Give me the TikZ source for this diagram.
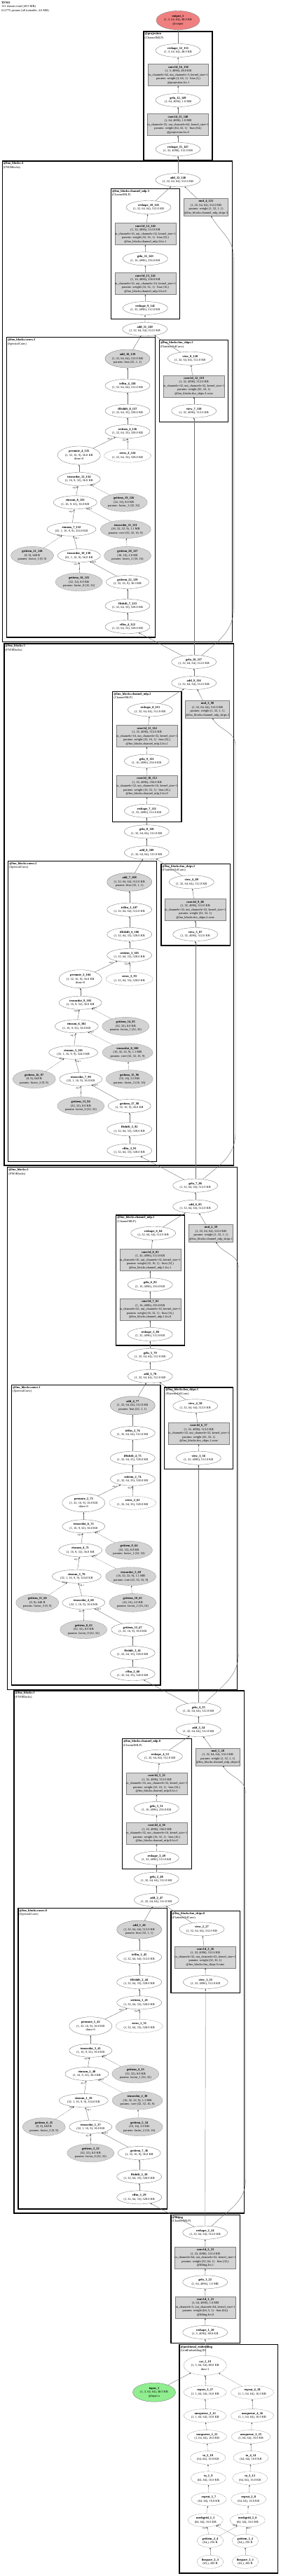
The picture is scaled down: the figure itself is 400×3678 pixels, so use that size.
\documentclass[tikz,border=0pt]{standalone}
\usepackage{fontspec}
\setmainfont{Liberation Serif}
\usetikzlibrary{shapes.geometric,arrows.meta}

\definecolor{parfill}{HTML}{D3D3D3}
\definecolor{outfill}{HTML}{F08080}
\definecolor{infill}{HTML}{90EE90}
\definecolor{nodeline}{HTML}{808080}
\definecolor{edgeline}{HTML}{707070}

\newcommand\nodefont{\fontsize{4.4}{5.5}\selectfont}
\newcommand\labfont{\fontsize{3.1}{3.5}\selectfont}
\newcommand\nm[1]{\textbf{\detokenize{#1}}}
\newcommand\kparams[2]{in\_channels=#1, out\_channels=#2, kernel\_size=1}
\newcommand\szfull{(1, 32, 64, 64), 512.0 KB}
\newcommand\szflat{(1, 32, 4096), 512.0 KB}
\newcommand\szhalf{(1, 16, 4096), 256.0 KB}
\newcommand\szspec{(1, 32, 64, 33), 528.0 KB}
\newcommand\szmodes{(1, 32, 16, 9), 36.0 KB}
\newcommand\szmix{(1, 16, 9, 32), 36.0 KB}
\newcommand\szgrid{(64, 64), 16.0 KB}

\tikzset{
  op/.style={ellipse, draw=nodeline, line width=0.4pt, minimum width=64pt, minimum height=19pt,
    inner sep=0pt, align=center, font=\nodefont},
  op3/.style={op, minimum height=26pt},
  pop/.style={op3, fill=parfill},
  ng/.style={dash pattern=on 1.2pt off 0.9pt},
  layer/.style={rectangle, draw=nodeline, line width=0.4pt, fill=parfill, minimum width=86pt,
    minimum height=31pt, inner sep=0pt, align=center, font=\nodefont},
  gate/.style={layer, minimum width=63pt, minimum height=25pt},
  grp/.style={draw=black, line width=1.3pt},
  grplab/.style={anchor=north west, align=left, inner sep=0pt, font=\nodefont},
  e/.style={draw=edgeline, line width=0.4pt, -{Stealth[length=2.4pt,width=1.8pt,color=black!80]}},
  ed/.style={e, ng},
  el/.style={font=\labfont, inner sep=0.6pt},
}

\begin{document}
\begin{tikzpicture}[x=1pt, y=-1pt]
  \useasboundingbox[fill=white] (0,0) rectangle (400,3678);
  \node[anchor=north west, align=left, inner sep=0pt, font=\nodefont] (title) at (2,2)
    {\textbf{TFNO}\\151 tensors total (49.9 MB)\\612775 params (all trainable, 4.6 MB)};

  \node[op3, fill=outfill, minimum width=62pt, minimum height=27pt] (output_1) at (254,29)
    {\nm{output_1}\\(1, 3, 64, 64), 48.0 KB\\@output};

  % projection
  \draw[grp] (205,45) rectangle (303,229);
  \node[grplab] (projection) at (206.5,46.5) {\textbf{@projection}\\(ChannelMLP)};
  \node[op] (reshape_12_151) at (254,72) {\nm{reshape_12_151}\\(1, 3, 64, 64), 48.0 KB};
  \node[layer] (conv1d_16_150) at (254.5,107) {\nm{conv1d_16_150}\\(1, 3, 4096), 48.0 KB\\\kparams{64}{3}\\params: weight (3, 64, 1) · bias (3,)\\@projection.fcs.1};
  \node[op] (gelu_12_149) at (254,143) {\nm{gelu_12_149}\\(1, 64, 4096), 1.0 MB};
  \node[layer] (conv1d_15_148) at (254,178) {\nm{conv1d_15_148}\\(1, 64, 4096), 1.0 MB\\\kparams{32}{64}\\params: weight (64, 32, 1) · bias (64,)\\@projection.fcs.0};
  \node[op] (reshape_11_147) at (254,213) {\nm{reshape_11_147}\\\szflat};
  \draw[e] (reshape_12_151) -- (output_1);
  \draw[e] (conv1d_16_150) -- (reshape_12_151);
  \draw[e] (gelu_12_149) -- (conv1d_16_150);
  \draw[e] (conv1d_15_148) -- (gelu_12_149);
  \draw[e] (reshape_11_147) -- (conv1d_15_148);

  % fno block 4
  \draw[grp] (3.3,230) rectangle (331.7,916.7);
  \node[grplab] (fno_blocks_4) at (4.8,231.5) {\textbf{@fno\_blocks:4}\\(FNOBlocks)};
  \draw[grp] (158.3,269.3) rectangle (256.7,455.3);
  \node[grplab] (channel_mlp_3) at (159.8,270.8) {\textbf{@fno\_blocks.channel\_mlp.3}\\(ChannelMLP)};
  \draw[grp] (9.3,481.7) rectangle (221.7,910);
  \node[grplab] (convs_3) at (10.8,483.2) {\textbf{@fno\_blocks.convs.3}\\(SpectralConv)};
  \draw[grp] (227.3,485.7) rectangle (325.7,602.7);
  \node[grplab] (fno_skips_3) at (228.8,487.2) {\textbf{@fno\_blocks.fno\_skips.3}\\(Flattened1dConv)};

  \node[op] (add_12_146) at (254,257) {\nm{add_12_146}\\\szfull};
  \node[op] (reshape_10_145) at (212,296) {\nm{reshape_10_145}\\\szfull};
  \node[gate] (mul_4_121) at (294,296) {\nm{mul_4_121}\\\szfull\\params: weight (1, 32, 1, 1)\\@fno\_blocks.channel\_mlp\_skips.3};
  \node[layer] (conv1d_14_144) at (207.5,334) {\nm{conv1d_14_144}\\\szflat\\\kparams{16}{32}\\params: weight (32, 16, 1) · bias (32,)\\@fno\_blocks.channel\_mlp.3.fcs.1};
  \node[op] (gelu_11_143) at (207.3,369.3) {\nm{gelu_11_143}\\\szhalf};
  \node[layer] (conv1d_13_142) at (207.5,405) {\nm{conv1d_13_142}\\\szhalf\\\kparams{32}{16}\\params: weight (16, 32, 1) · bias (16,)\\@fno\_blocks.channel\_mlp.3.fcs.0};
  \node[op] (reshape_9_141) at (207.3,440) {\nm{reshape_9_141}\\\szflat};
  \node[op] (add_11_140) at (206.7,470) {\nm{add_11_140}\\\szfull};
  \node[pop] (add_10_139) at (182,512) {\nm{add_10_139}\\\szfull\\params: bias (32, 1, 1)};
  \node[op] (view_8_120) at (271.3,511.7) {\nm{view_8_120}\\\szfull};
  \node[op] (irfftn_4_138) at (182,550.7) {\nm{irfftn_4_138}\\\szfull};
  \node[layer] (conv1d_12_119) at (276.7,551.3) {\nm{conv1d_12_119}\\\szflat\\\kparams{32}{32}\\params: weight (32, 32, 1)\\@fno\_blocks.fno\_skips.3.conv};
  \node[op] (ifftshift_8_137) at (182,586.7) {\nm{ifftshift_8_137}\\\szspec};
  \node[op] (view_7_118) at (276.7,586.7) {\nm{view_7_118}\\\szflat};
  \node[op] (setitem_4_136) at (182,616) {\nm{setitem_4_136}\\\szspec};
  \node[op3, minimum width=61pt] (permute_4_135) at (112.7,650) {\nm{permute_4_135}\\\szmodes\\dims=0};
  \node[op, ng, minimum width=67pt] (zeros_4_124) at (182,650.7) {\nm{zeros_4_124}\\\szspec};
  \node[op, minimum width=61pt] (tensordot_12_134) at (112.7,684) {\nm{tensordot_12_134}\\\szmix};
  \node[op, minimum width=62pt] (einsum_8_133) at (107.3,717.3) {\nm{einsum_8_133}\\\szmix};
  \node[pop, ng, minimum width=67pt] (getitem_19_126) at (176.7,717.3) {\nm{getitem_19_126}\\(32, 32), 8.0 KB\\params: factor\_1 (32, 32)};
  \node[op, minimum width=70pt] (einsum_7_132) at (102,755.7) {\nm{einsum_7_132}\\(32, 1, 16, 9, 9), 324.0 KB};
  \node[pop, ng, minimum width=72pt] (tensordot_11_131) at (179.3,755.7) {\nm{tensordot_11_131}\\(16, 32, 32, 9), 1.1 MB\\params: core (32, 32, 16, 9)};
  \node[pop, ng, minimum width=61pt] (getitem_21_128) at (46,793.3) {\nm{getitem_21_128}\\(9, 9), 648 B\\params: factor\_3 (9, 9)};
  \node[op, minimum width=61pt] (tensordot_10_130) at (112.7,793.3) {\nm{tensordot_10_130}\\(32, 1, 16, 9), 36.0 KB};
  \node[pop, ng, minimum width=67pt] (getitem_20_127) at (182,793.3) {\nm{getitem_20_127}\\(16, 16), 2.0 KB\\params: factor\_2 (16, 16)};
  \node[pop, ng, minimum width=67pt] (getitem_18_125) at (112.7,831) {\nm{getitem_18_125}\\(32, 32), 8.0 KB\\params: factor\_0 (32, 32)};
  \node[op, minimum width=61pt] (getitem_22_129) at (182,831) {\nm{getitem_22_129}\\\szmodes};
  \node[op] (fftshift_7_123) at (182,865) {\nm{fftshift_7_123}\\\szspec};
  \node[op] (rfftn_4_122) at (182,895) {\nm{rfftn_4_122}\\\szspec};

  \draw[e] (add_12_146) -- (reshape_11_147);
  \draw[e] (reshape_10_145) -- (add_12_146);
  \draw[e] (mul_4_121) -- (add_12_146);
  \draw[e] (conv1d_14_144) -- (reshape_10_145);
  \draw[e] (gelu_11_143) -- (conv1d_14_144);
  \draw[e] (conv1d_13_142) -- (gelu_11_143);
  \draw[e] (reshape_9_141) -- (conv1d_13_142);
  \draw[e] (add_11_140) -- (reshape_9_141);
  \draw[e] (add_10_139) -- (add_11_140);
  \draw[e] (view_8_120) -- (add_11_140);
  \draw[e] (conv1d_12_119) -- (view_8_120);
  \draw[e] (view_7_118) -- (conv1d_12_119);
  \draw[e] (irfftn_4_138) -- (add_10_139);
  \draw[e] (ifftshift_8_137) -- (irfftn_4_138);
  \draw[e] (setitem_4_136) -- (ifftshift_8_137);
  \draw[e] (permute_4_135) -- node[el, pos=0.85, left] {arg 2} (setitem_4_136);
  \draw[ed] (zeros_4_124) -- node[el, pos=0.8, left] {arg 0} (setitem_4_136);
  \draw[e] (tensordot_12_134) -- (permute_4_135);
  \draw[e] (einsum_8_133) -- node[el, pos=0.8, left] {arg 0} (tensordot_12_134);
  \draw[ed] (getitem_19_126) -- node[el, pos=0.85, above] {arg 1} (tensordot_12_134);
  \draw[e] (einsum_7_132) -- node[el, pos=0.8, left] {arg 1} (einsum_8_133);
  \draw[ed] (tensordot_11_131) -- node[el, pos=0.85, above] {arg 2} (einsum_8_133);
  \draw[e] (tensordot_10_130) -- node[el, pos=0.8, right] {arg 1} (einsum_7_132);
  \draw[ed] (getitem_21_128) -- node[el, pos=0.85, above] {arg 2} (einsum_7_132);
  \draw[ed] (getitem_20_127) -- (tensordot_11_131);
  \draw[ed] (getitem_18_125) -- node[el, pos=0.8, left] {arg 1} (tensordot_10_130);
  \draw[e] (getitem_22_129) -- node[el, pos=0.85, above] {arg 0} (tensordot_10_130);
  \draw[e] (fftshift_7_123) -- (getitem_22_129);
  \draw[e] (rfftn_4_122) -- (fftshift_7_123);

  % fno block 3
  \draw[grp] (6,919) rectangle (333.3,1664);
  \node[grplab] (fno_blocks_3) at (7.5,920.5) {\textbf{@fno\_blocks:3}\\(FNOBlocks)};
  \draw[grp] (160.7,987.3) rectangle (259,1173.3);
  \node[grplab] (channel_mlp_2) at (162.2,988.8) {\textbf{@fno\_blocks.channel\_mlp.2}\\(ChannelMLP)};
  \draw[grp] (11.7,1229.3) rectangle (223.3,1658.3);
  \node[grplab] (convs_2) at (13.2,1230.8) {\textbf{@fno\_blocks.convs.2}\\(SpectralConv)};
  \draw[grp] (230,1233.3) rectangle (328.3,1350);
  \node[grplab] (fno_skips_2) at (231.5,1234.8) {\textbf{@fno\_blocks.fno\_skips.2}\\(Flattened1dConv)};

  \node[op] (gelu_10_117) at (276.7,945) {\nm{gelu_10_117}\\\szfull};
  \node[op] (add_9_116) at (276.7,975) {\nm{add_9_116}\\\szfull};
  \node[op] (reshape_8_115) at (214.3,1013.3) {\nm{reshape_8_115}\\\szfull};
  \node[gate] (mul_3_90) at (296,1013) {\nm{mul_3_90}\\\szfull\\params: weight (1, 32, 1, 1)\\@fno\_blocks.channel\_mlp\_skips.2};
  \node[layer] (conv1d_11_114) at (209.7,1051) {\nm{conv1d_11_114}\\\szflat\\\kparams{16}{32}\\params: weight (32, 16, 1) · bias (32,)\\@fno\_blocks.channel\_mlp.2.fcs.1};
  \node[op] (gelu_9_113) at (209.3,1086.7) {\nm{gelu_9_113}\\\szhalf};
  \node[layer] (conv1d_10_112) at (209.7,1122.5) {\nm{conv1d_10_112}\\\szhalf\\\kparams{32}{16}\\params: weight (16, 32, 1) · bias (16,)\\@fno\_blocks.channel\_mlp.2.fcs.0};
  \node[op] (reshape_7_111) at (209.3,1157.7) {\nm{reshape_7_111}\\\szflat};
  \node[op] (gelu_8_110) at (209.3,1187.3) {\nm{gelu_8_110}\\\szfull};
  \node[op] (add_8_109) at (209.3,1217.3) {\nm{add_8_109}\\\szfull};
  \node[pop] (add_7_108) at (184.7,1259.3) {\nm{add_7_108}\\\szfull\\params: bias (32, 1, 1)};
  \node[op] (view_6_89) at (273.3,1259.3) {\nm{view_6_89}\\\szfull};
  \node[op] (irfftn_3_107) at (184.7,1298.7) {\nm{irfftn_3_107}\\\szfull};
  \node[layer] (conv1d_9_88) at (278.7,1299) {\nm{conv1d_9_88}\\\szflat\\\kparams{32}{32}\\params: weight (32, 32, 1)\\@fno\_blocks.fno\_skips.2.conv};
  \node[op] (ifftshift_6_106) at (184.7,1334) {\nm{ifftshift_6_106}\\\szspec};
  \node[op] (view_5_87) at (278.7,1334) {\nm{view_5_87}\\\szflat};
  \node[op] (setitem_3_105) at (184.7,1364) {\nm{setitem_3_105}\\\szspec};
  \node[op3, minimum width=61pt] (permute_3_104) at (114.7,1397.7) {\nm{permute_3_104}\\\szmodes\\dims=0};
  \node[op, ng, minimum width=67pt] (zeros_3_93) at (184.7,1397.7) {\nm{zeros_3_93}\\\szspec};
  \node[op, minimum width=61pt] (tensordot_9_103) at (114.7,1431.7) {\nm{tensordot_9_103}\\\szmix};
  \node[op, minimum width=62pt] (einsum_6_102) at (109.3,1465.3) {\nm{einsum_6_102}\\\szmix};
  \node[pop, ng, minimum width=67pt] (getitem_14_95) at (179.3,1465.3) {\nm{getitem_14_95}\\(32, 32), 8.0 KB\\params: factor\_1 (32, 32)};
  \node[op, minimum width=70pt] (einsum_5_101) at (104.7,1502.7) {\nm{einsum_5_101}\\(32, 1, 16, 9, 9), 324.0 KB};
  \node[pop, ng, minimum width=72pt] (tensordot_8_100) at (182,1502.7) {\nm{tensordot_8_100}\\(16, 32, 32, 9), 1.1 MB\\params: core (32, 32, 16, 9)};
  \node[pop, ng, minimum width=61pt] (getitem_16_97) at (48.7,1540.7) {\nm{getitem_16_97}\\(9, 9), 648 B\\params: factor\_3 (9, 9)};
  \node[op, minimum width=61pt] (tensordot_7_99) at (115.3,1540.7) {\nm{tensordot_7_99}\\(32, 1, 16, 9), 36.0 KB};
  \node[pop, ng, minimum width=67pt] (getitem_15_96) at (184.7,1540.7) {\nm{getitem_15_96}\\(16, 16), 2.0 KB\\params: factor\_2 (16, 16)};
  \node[pop, ng, minimum width=67pt] (getitem_13_94) at (115.3,1579) {\nm{getitem_13_94}\\(32, 32), 8.0 KB\\params: factor\_0 (32, 32)};
  \node[op, minimum width=61pt] (getitem_17_98) at (184.7,1579) {\nm{getitem_17_98}\\\szmodes};
  \node[op] (fftshift_5_92) at (184.7,1612.3) {\nm{fftshift_5_92}\\\szspec};
  \node[op] (rfftn_3_91) at (184.7,1642.7) {\nm{rfftn_3_91}\\\szspec};

  \coordinate (g4lo) at (333.6,868);
  \coordinate (g4hi) at (333.6,368);
  \draw[e] (gelu_10_117) -- (rfftn_4_122);
  \draw[e] (gelu_10_117) -- (view_7_118);
  \draw[e] (gelu_10_117) to[out=40,in=-90] (g4lo) -- (g4hi) to[out=90,in=-60] (mul_4_121);
  \draw[e] (add_9_116) -- (gelu_10_117);
  \draw[e] (reshape_8_115) -- (add_9_116);
  \draw[e] (mul_3_90) -- (add_9_116);
  \draw[e] (conv1d_11_114) -- (reshape_8_115);
  \draw[e] (gelu_9_113) -- (conv1d_11_114);
  \draw[e] (conv1d_10_112) -- (gelu_9_113);
  \draw[e] (reshape_7_111) -- (conv1d_10_112);
  \draw[e] (gelu_8_110) -- (reshape_7_111);
  \draw[e] (add_8_109) -- (gelu_8_110);
  \draw[e] (add_7_108) -- (add_8_109);
  \draw[e] (view_6_89) -- (add_8_109);
  \draw[e] (conv1d_9_88) -- (view_6_89);
  \draw[e] (view_5_87) -- (conv1d_9_88);
  \draw[e] (irfftn_3_107) -- (add_7_108);
  \draw[e] (ifftshift_6_106) -- (irfftn_3_107);
  \draw[e] (setitem_3_105) -- (ifftshift_6_106);
  \draw[e] (permute_3_104) -- node[el, pos=0.85, left] {arg 2} (setitem_3_105);
  \draw[ed] (zeros_3_93) -- node[el, pos=0.8, left] {arg 0} (setitem_3_105);
  \draw[e] (tensordot_9_103) -- (permute_3_104);
  \draw[e] (einsum_6_102) -- node[el, pos=0.8, left] {arg 0} (tensordot_9_103);
  \draw[ed] (getitem_14_95) -- node[el, pos=0.85, above] {arg 1} (tensordot_9_103);
  \draw[e] (einsum_5_101) -- node[el, pos=0.8, left] {arg 1} (einsum_6_102);
  \draw[ed] (tensordot_8_100) -- node[el, pos=0.85, above] {arg 2} (einsum_6_102);
  \draw[e] (tensordot_7_99) -- node[el, pos=0.8, right] {arg 1} (einsum_5_101);
  \draw[ed] (getitem_16_97) -- node[el, pos=0.85, above] {arg 2} (einsum_5_101);
  \draw[ed] (getitem_15_96) -- (tensordot_8_100);
  \draw[ed] (getitem_13_94) -- node[el, pos=0.8, left] {arg 1} (tensordot_7_99);
  \draw[e] (getitem_17_98) -- node[el, pos=0.85, above] {arg 0} (tensordot_7_99);
  \draw[e] (fftshift_5_92) -- (getitem_17_98);
  \draw[e] (rfftn_3_91) -- (fftshift_5_92);

  % fno block 2
  \draw[grp] (10.7,1666.7) rectangle (338.3,2412.7);
  \node[grplab] (fno_blocks_2) at (12.2,1668.2) {\textbf{@fno\_blocks:2}\\(FNOBlocks)};
  \draw[grp] (165.7,1735) rectangle (263.3,1921);
  \node[grplab] (channel_mlp_1) at (167.2,1736.5) {\textbf{@fno\_blocks.channel\_mlp.1}\\(ChannelMLP)};
  \draw[grp] (16.7,1977.3) rectangle (229,2406);
  \node[grplab] (convs_1) at (18.2,1978.8) {\textbf{@fno\_blocks.convs.1}\\(SpectralConv)};
  \draw[grp] (234.7,1981) rectangle (332.7,2097.3);
  \node[grplab] (fno_skips_1) at (236.2,1982.5) {\textbf{@fno\_blocks.fno\_skips.1}\\(Flattened1dConv)};

  \node[op] (gelu_7_86) at (278.7,1692.7) {\nm{gelu_7_86}\\\szfull};
  \node[op] (add_6_85) at (278.7,1722.7) {\nm{add_6_85}\\\szfull};
  \node[op] (reshape_6_84) at (218.7,1760.7) {\nm{reshape_6_84}\\\szfull};
  \node[gate] (mul_2_59) at (301,1760.8) {\nm{mul_2_59}\\\szfull\\params: weight (1, 32, 1, 1)\\@fno\_blocks.channel\_mlp\_skips.1};
  \node[layer] (conv1d_8_83) at (214.3,1799) {\nm{conv1d_8_83}\\\szflat\\\kparams{16}{32}\\params: weight (32, 16, 1) · bias (32,)\\@fno\_blocks.channel\_mlp.1.fcs.1};
  \node[op] (gelu_6_82) at (214.3,1834.3) {\nm{gelu_6_82}\\\szhalf};
  \node[layer] (conv1d_7_81) at (214.3,1869.8) {\nm{conv1d_7_81}\\\szhalf\\\kparams{32}{16}\\params: weight (16, 32, 1) · bias (16,)\\@fno\_blocks.channel\_mlp.1.fcs.0};
  \node[op] (reshape_5_80) at (214.3,1905) {\nm{reshape_5_80}\\\szflat};
  \node[op] (gelu_5_79) at (214.3,1935) {\nm{gelu_5_79}\\\szfull};
  \node[op] (add_5_78) at (214.3,1965) {\nm{add_5_78}\\\szfull};
  \node[pop] (add_4_77) at (189.3,2006.7) {\nm{add_4_77}\\\szfull\\params: bias (32, 1, 1)};
  \node[op] (view_4_58) at (278.7,2007.3) {\nm{view_4_58}\\\szfull};
  \node[op] (irfftn_2_76) at (189.3,2046) {\nm{irfftn_2_76}\\\szfull};
  \node[layer] (conv1d_6_57) at (283.7,2046.7) {\nm{conv1d_6_57}\\\szflat\\\kparams{32}{32}\\params: weight (32, 32, 1)\\@fno\_blocks.fno\_skips.1.conv};
  \node[op] (ifftshift_4_75) at (189.3,2081.7) {\nm{ifftshift_4_75}\\\szspec};
  \node[op] (view_3_56) at (283.3,2081.7) {\nm{view_3_56}\\\szflat};
  \node[op] (setitem_2_74) at (189.3,2111.7) {\nm{setitem_2_74}\\\szspec};
  \node[op3, minimum width=61pt] (permute_2_73) at (119.3,2145.7) {\nm{permute_2_73}\\\szmodes\\dims=0};
  \node[op, ng, minimum width=67pt] (zeros_2_62) at (189.3,2145.7) {\nm{zeros_2_62}\\\szspec};
  \node[op, minimum width=61pt] (tensordot_6_72) at (119.3,2179.3) {\nm{tensordot_6_72}\\\szmix};
  \node[op, minimum width=62pt] (einsum_4_71) at (114.7,2213.3) {\nm{einsum_4_71}\\\szmix};
  \node[pop, ng, minimum width=67pt] (getitem_9_64) at (184,2213.3) {\nm{getitem_9_64}\\(32, 32), 8.0 KB\\params: factor\_1 (32, 32)};
  \node[op, minimum width=70pt] (einsum_3_70) at (109.3,2250.7) {\nm{einsum_3_70}\\(32, 1, 16, 9, 9), 324.0 KB};
  \node[pop, ng, minimum width=72pt] (tensordot_5_69) at (186.7,2250.7) {\nm{tensordot_5_69}\\(16, 32, 32, 9), 1.1 MB\\params: core (32, 32, 16, 9)};
  \node[pop, ng, minimum width=61pt] (getitem_11_66) at (53.3,2288.3) {\nm{getitem_11_66}\\(9, 9), 648 B\\params: factor\_3 (9, 9)};
  \node[op, minimum width=61pt] (tensordot_4_68) at (119.3,2288.3) {\nm{tensordot_4_68}\\(32, 1, 16, 9), 36.0 KB};
  \node[pop, ng, minimum width=67pt] (getitem_10_65) at (189.3,2288.3) {\nm{getitem_10_65}\\(16, 16), 2.0 KB\\params: factor\_2 (16, 16)};
  \node[pop, ng, minimum width=67pt] (getitem_8_63) at (119.3,2326.7) {\nm{getitem_8_63}\\(32, 32), 8.0 KB\\params: factor\_0 (32, 32)};
  \node[op, minimum width=61pt] (getitem_12_67) at (189.3,2326.7) {\nm{getitem_12_67}\\\szmodes};
  \node[op] (fftshift_3_61) at (189.3,2360) {\nm{fftshift_3_61}\\\szspec};
  \node[op] (rfftn_2_60) at (189.3,2390) {\nm{rfftn_2_60}\\\szspec};

  \coordinate (g3lo) at (336,1618);
  \coordinate (g3hi) at (336,1064);
  \draw[e] (gelu_7_86) -- (rfftn_3_91);
  \draw[e] (gelu_7_86) -- (view_5_87);
  \draw[e] (gelu_7_86) to[out=40,in=-90] (g3lo) -- (g3hi) to[out=90,in=-60] (mul_3_90);
  \draw[e] (add_6_85) -- (gelu_7_86);
  \draw[e] (reshape_6_84) -- (add_6_85);
  \draw[e] (mul_2_59) -- (add_6_85);
  \draw[e] (conv1d_8_83) -- (reshape_6_84);
  \draw[e] (gelu_6_82) -- (conv1d_8_83);
  \draw[e] (conv1d_7_81) -- (gelu_6_82);
  \draw[e] (reshape_5_80) -- (conv1d_7_81);
  \draw[e] (gelu_5_79) -- (reshape_5_80);
  \draw[e] (add_5_78) -- (gelu_5_79);
  \draw[e] (add_4_77) -- (add_5_78);
  \draw[e] (view_4_58) -- (add_5_78);
  \draw[e] (conv1d_6_57) -- (view_4_58);
  \draw[e] (view_3_56) -- (conv1d_6_57);
  \draw[e] (irfftn_2_76) -- (add_4_77);
  \draw[e] (ifftshift_4_75) -- (irfftn_2_76);
  \draw[e] (setitem_2_74) -- (ifftshift_4_75);
  \draw[e] (permute_2_73) -- node[el, pos=0.85, left] {arg 2} (setitem_2_74);
  \draw[ed] (zeros_2_62) -- node[el, pos=0.8, left] {arg 0} (setitem_2_74);
  \draw[e] (tensordot_6_72) -- (permute_2_73);
  \draw[e] (einsum_4_71) -- node[el, pos=0.8, left] {arg 0} (tensordot_6_72);
  \draw[ed] (getitem_9_64) -- node[el, pos=0.85, above] {arg 1} (tensordot_6_72);
  \draw[e] (einsum_3_70) -- node[el, pos=0.8, left] {arg 1} (einsum_4_71);
  \draw[ed] (tensordot_5_69) -- node[el, pos=0.85, above] {arg 2} (einsum_4_71);
  \draw[e] (tensordot_4_68) -- node[el, pos=0.8, right] {arg 1} (einsum_3_70);
  \draw[ed] (getitem_11_66) -- node[el, pos=0.85, above] {arg 2} (einsum_3_70);
  \draw[ed] (getitem_10_65) -- (tensordot_5_69);
  \draw[ed] (getitem_8_63) -- node[el, pos=0.8, left] {arg 1} (tensordot_4_68);
  \draw[e] (getitem_12_67) -- node[el, pos=0.85, above] {arg 0} (tensordot_4_68);
  \draw[e] (fftshift_3_61) -- (getitem_12_67);
  \draw[e] (rfftn_2_60) -- (fftshift_3_61);

  % fno block 1
  \draw[grp] (20,2414) rectangle (348.3,3160);
  \node[grplab] (fno_blocks_1) at (21.5,2415.5) {\textbf{@fno\_blocks:1}\\(FNOBlocks)};
  \draw[grp] (174.3,2482.7) rectangle (273.3,2668.3);
  \node[grplab] (channel_mlp_0) at (175.8,2484.2) {\textbf{@fno\_blocks.channel\_mlp.0}\\(ChannelMLP)};
  \draw[grp] (26,2724.3) rectangle (238.3,3154);
  \node[grplab] (convs_0) at (27.5,2725.8) {\textbf{@fno\_blocks.convs.0}\\(SpectralConv)};
  \draw[grp] (244,2728.7) rectangle (342.3,2845.7);
  \node[grplab] (fno_skips_0) at (245.5,2730.2) {\textbf{@fno\_blocks.fno\_skips.0}\\(Flattened1dConv)};

  \node[op] (gelu_4_55) at (283.3,2440.7) {\nm{gelu_4_55}\\\szfull};
  \node[op] (add_3_54) at (283.3,2470) {\nm{add_3_54}\\\szfull};
  \node[op] (reshape_4_53) at (228.3,2507.7) {\nm{reshape_4_53}\\\szfull};
  \node[gate] (mul_1_28) at (310.8,2508.3) {\nm{mul_1_28}\\\szfull\\params: weight (1, 32, 1, 1)\\@fno\_blocks.channel\_mlp\_skips.0};
  \node[layer] (conv1d_5_52) at (223.7,2546.7) {\nm{conv1d_5_52}\\\szflat\\\kparams{16}{32}\\params: weight (32, 16, 1) · bias (32,)\\@fno\_blocks.channel\_mlp.0.fcs.1};
  \node[op] (gelu_3_51) at (223.3,2582) {\nm{gelu_3_51}\\\szhalf};
  \node[layer] (conv1d_4_50) at (223.7,2617.7) {\nm{conv1d_4_50}\\\szhalf\\\kparams{32}{16}\\params: weight (16, 32, 1) · bias (16,)\\@fno\_blocks.channel\_mlp.0.fcs.0};
  \node[op] (reshape_3_49) at (223.3,2652.7) {\nm{reshape_3_49}\\\szflat};
  \node[op] (gelu_2_48) at (223.3,2682.7) {\nm{gelu_2_48}\\\szfull};
  \node[op] (add_2_47) at (223.3,2712.7) {\nm{add_2_47}\\\szfull};
  \node[pop] (add_1_46) at (198.7,2755) {\nm{add_1_46}\\\szfull\\params: bias (32, 1, 1)};
  \node[op] (view_2_27) at (288,2754.3) {\nm{view_2_27}\\\szfull};
  \node[op] (irfftn_1_45) at (198.7,2794.3) {\nm{irfftn_1_45}\\\szfull};
  \node[layer] (conv1d_3_26) at (293,2794.3) {\nm{conv1d_3_26}\\\szflat\\\kparams{32}{32}\\params: weight (32, 32, 1)\\@fno\_blocks.fno\_skips.0.conv};
  \node[op] (ifftshift_2_44) at (198.7,2830) {\nm{ifftshift_2_44}\\\szspec};
  \node[op] (view_1_25) at (293.3,2830) {\nm{view_1_25}\\\szflat};
  \node[op] (setitem_1_43) at (198.7,2859.3) {\nm{setitem_1_43}\\\szspec};
  \node[op3, minimum width=61pt] (permute_1_42) at (129.3,2892.7) {\nm{permute_1_42}\\\szmodes\\dims=0};
  \node[op, ng, minimum width=67pt] (zeros_1_31) at (198.7,2892.7) {\nm{zeros_1_31}\\\szspec};
  \node[op, minimum width=61pt] (tensordot_3_41) at (129.3,2927.7) {\nm{tensordot_3_41}\\\szmix};
  \node[op, minimum width=62pt] (einsum_2_40) at (124,2961) {\nm{einsum_2_40}\\\szmix};
  \node[pop, ng, minimum width=67pt] (getitem_4_33) at (193.3,2961) {\nm{getitem_4_33}\\(32, 32), 8.0 KB\\params: factor\_1 (32, 32)};
  \node[op, minimum width=70pt] (einsum_1_39) at (119.3,2999) {\nm{einsum_1_39}\\(32, 1, 16, 9, 9), 324.0 KB};
  \node[pop, ng, minimum width=72pt] (tensordot_2_38) at (196,2999) {\nm{tensordot_2_38}\\(16, 32, 32, 9), 1.1 MB\\params: core (32, 32, 16, 9)};
  \node[pop, ng, minimum width=61pt] (getitem_6_35) at (62.7,3036.7) {\nm{getitem_6_35}\\(9, 9), 648 B\\params: factor\_3 (9, 9)};
  \node[op, minimum width=61pt] (tensordot_1_37) at (129.3,3036.7) {\nm{tensordot_1_37}\\(32, 1, 16, 9), 36.0 KB};
  \node[pop, ng, minimum width=67pt] (getitem_5_34) at (198.7,3036.7) {\nm{getitem_5_34}\\(16, 16), 2.0 KB\\params: factor\_2 (16, 16)};
  \node[pop, ng, minimum width=67pt] (getitem_3_32) at (129.3,3074) {\nm{getitem_3_32}\\(32, 32), 8.0 KB\\params: factor\_0 (32, 32)};
  \node[op, minimum width=61pt] (getitem_7_36) at (198.7,3074) {\nm{getitem_7_36}\\\szmodes};
  \node[op] (fftshift_1_30) at (198.7,3107.7) {\nm{fftshift_1_30}\\\szspec};
  \node[op] (rfftn_1_29) at (198.7,3137.3) {\nm{rfftn_1_29}\\\szspec};

  \coordinate (g2lo) at (340.5,2360);
  \coordinate (g2hi) at (340.5,1810);
  \draw[e] (gelu_4_55) -- (rfftn_2_60);
  \draw[e] (gelu_4_55) -- (view_3_56);
  \draw[e] (gelu_4_55) to[out=45,in=-90] (g2lo) -- (g2hi) to[out=90,in=-60] (mul_2_59);
  \draw[e] (add_3_54) -- (gelu_4_55);
  \draw[e] (reshape_4_53) -- (add_3_54);
  \draw[e] (mul_1_28) -- (add_3_54);
  \draw[e] (conv1d_5_52) -- (reshape_4_53);
  \draw[e] (gelu_3_51) -- (conv1d_5_52);
  \draw[e] (conv1d_4_50) -- (gelu_3_51);
  \draw[e] (reshape_3_49) -- (conv1d_4_50);
  \draw[e] (gelu_2_48) -- (reshape_3_49);
  \draw[e] (add_2_47) -- (gelu_2_48);
  \draw[e] (add_1_46) -- (add_2_47);
  \draw[e] (view_2_27) -- (add_2_47);
  \draw[e] (conv1d_3_26) -- (view_2_27);
  \draw[e] (view_1_25) -- (conv1d_3_26);
  \draw[e] (irfftn_1_45) -- (add_1_46);
  \draw[e] (ifftshift_2_44) -- (irfftn_1_45);
  \draw[e] (setitem_1_43) -- (ifftshift_2_44);
  \draw[e] (permute_1_42) -- node[el, pos=0.85, left] {arg 2} (setitem_1_43);
  \draw[ed] (zeros_1_31) -- node[el, pos=0.8, left] {arg 0} (setitem_1_43);
  \draw[e] (tensordot_3_41) -- (permute_1_42);
  \draw[e] (einsum_2_40) -- node[el, pos=0.8, left] {arg 0} (tensordot_3_41);
  \draw[ed] (getitem_4_33) -- node[el, pos=0.85, above] {arg 1} (tensordot_3_41);
  \draw[e] (einsum_1_39) -- node[el, pos=0.8, left] {arg 1} (einsum_2_40);
  \draw[ed] (tensordot_2_38) -- node[el, pos=0.85, above] {arg 2} (einsum_2_40);
  \draw[e] (tensordot_1_37) -- node[el, pos=0.8, right] {arg 1} (einsum_1_39);
  \draw[ed] (getitem_6_35) -- node[el, pos=0.85, above] {arg 2} (einsum_1_39);
  \draw[ed] (getitem_5_34) -- (tensordot_2_38);
  \draw[ed] (getitem_3_32) -- node[el, pos=0.8, left] {arg 1} (tensordot_1_37);
  \draw[e] (getitem_7_36) -- node[el, pos=0.85, above] {arg 0} (tensordot_1_37);
  \draw[e] (fftshift_1_30) -- (getitem_7_36);
  \draw[e] (rfftn_1_29) -- (fftshift_1_30);

  % lifting
  \draw[grp] (244,3162.3) rectangle (342.3,3345.3);
  \node[grplab] (lifting) at (245.5,3163.8) {\textbf{@lifting}\\(ChannelMLP)};
  \node[op] (reshape_2_24) at (292.7,3187.7) {\nm{reshape_2_24}\\\szfull};
  \node[layer] (conv1d_2_23) at (293,3223.7) {\nm{conv1d_2_23}\\\szflat\\\kparams{64}{32}\\params: weight (32, 64, 1) · bias (32,)\\@lifting.fcs.1};
  \node[op] (gelu_1_22) at (292.7,3258.3) {\nm{gelu_1_22}\\(1, 64, 4096), 1.0 MB};
  \node[layer] (conv1d_1_21) at (293,3294.3) {\nm{conv1d_1_21}\\(1, 64, 4096), 1.0 MB\\\kparams{5}{64}\\params: weight (64, 5, 1) · bias (64,)\\@lifting.fcs.0};
  \node[op] (reshape_1_20) at (292.7,3330) {\nm{reshape_1_20}\\(1, 5, 4096), 80.0 KB};

  \coordinate (g1lo) at (350.7,3112);
  \coordinate (g1hi) at (350.7,2560);
  \draw[e] (reshape_2_24) -- (rfftn_1_29);
  \draw[e] (reshape_2_24) -- (view_1_25);
  \draw[e] (reshape_2_24) to[out=45,in=-90] (g1lo) -- (g1hi) to[out=90,in=-60] (mul_1_28);
  \draw[e] (conv1d_2_23) -- (reshape_2_24);
  \draw[e] (gelu_1_22) -- (conv1d_2_23);
  \draw[e] (conv1d_1_21) -- (gelu_1_22);
  \draw[e] (reshape_1_20) -- (conv1d_1_21);

  % positional embedding
  \draw[grp] (256,3347.3) rectangle (396.7,3674);
  \node[grplab] (positional_embedding) at (257.5,3348.8) {\textbf{@positional\_embedding}\\(GridEmbedding2D)};
  \node[op3, ng, minimum width=61pt, minimum height=28pt] (cat_1_19) at (292.7,3377.3) {\nm{cat_1_19}\\(1, 5, 64, 64), 80.0 KB\\dim=1};
  \node[op3, fill=infill, minimum width=61pt, minimum height=27pt] (input_1) at (220,3415.7) {\nm{input_1}\\(1, 3, 64, 64), 48.0 KB\\@input.x};
  \node[op, ng, minimum width=61pt] (repeat_3_17) at (292.7,3415.7) {\nm{repeat_3_17}\\(1, 1, 64, 64), 16.0 KB};
  \node[op, ng, minimum width=61pt] (repeat_4_18) at (360,3415.7) {\nm{repeat_4_18}\\(1, 1, 64, 64), 16.0 KB};
  \node[op, ng, minimum width=61pt] (unsqueeze_2_12) at (292.7,3449) {\nm{unsqueeze_2_12}\\(1, 1, 64, 64), 16.0 KB};
  \node[op, ng, minimum width=61pt] (unsqueeze_4_16) at (360,3449) {\nm{unsqueeze_4_16}\\(1, 1, 64, 64), 16.0 KB};
  \node[op, ng, minimum width=56pt] (unsqueeze_1_11) at (295.3,3479) {\nm{unsqueeze_1_11}\\(1, 64, 64), 16.0 KB};
  \node[op, ng, minimum width=56pt] (unsqueeze_3_15) at (358,3479) {\nm{unsqueeze_3_15}\\(1, 64, 64), 16.0 KB};
  \node[op, ng, minimum width=50pt] (to_2_10) at (296.7,3509) {\nm{to_2_10}\\\szgrid};
  \node[op, ng, minimum width=50pt] (to_4_14) at (358,3509) {\nm{to_4_14}\\\szgrid};
  \node[op, ng, minimum width=50pt] (to_1_9) at (297.3,3538.3) {\nm{to_1_9}\\\szgrid};
  \node[op, ng, minimum width=50pt] (to_3_13) at (356.7,3538.3) {\nm{to_3_13}\\\szgrid};
  \node[op, ng, minimum width=50pt] (repeat_1_7) at (298,3568.3) {\nm{repeat_1_7}\\\szgrid};
  \node[op, ng, minimum width=50pt] (repeat_2_8) at (354.7,3568.3) {\nm{repeat_2_8}\\\szgrid};
  \node[op, ng, minimum width=50pt] (meshgrid_1_5) at (293.3,3598.3) {\nm{meshgrid_1_5}\\\szgrid};
  \node[op, ng, minimum width=50pt] (meshgrid_2_6) at (353.3,3598.3) {\nm{meshgrid_2_6}\\\szgrid};
  \node[op, ng, minimum width=38pt] (getitem_2_4) at (300,3627.7) {\nm{getitem_2_4}\\(64,), 256 B};
  \node[op, ng, minimum width=38pt] (getitem_1_2) at (350,3627.7) {\nm{getitem_1_2}\\(64,), 256 B};
  \node[op, ng, minimum width=38pt] (linspace_2_3) at (300,3657.7) {\nm{linspace_2_3}\\(65,), 260 B};
  \node[op, ng, minimum width=38pt] (linspace_1_1) at (350,3657.7) {\nm{linspace_1_1}\\(65,), 260 B};

  \draw[ed] (cat_1_19) -- (reshape_1_20);
  \draw[e] (input_1) -- (cat_1_19);
  \draw[ed] (repeat_3_17) -- (cat_1_19);
  \draw[ed] (repeat_4_18) -- (cat_1_19);
  \draw[ed] (unsqueeze_2_12) -- (repeat_3_17);
  \draw[ed] (unsqueeze_4_16) -- (repeat_4_18);
  \draw[ed] (unsqueeze_1_11) -- (unsqueeze_2_12);
  \draw[ed] (unsqueeze_3_15) -- (unsqueeze_4_16);
  \draw[ed] (to_2_10) -- (unsqueeze_1_11);
  \draw[ed] (to_4_14) -- (unsqueeze_3_15);
  \draw[ed] (to_1_9) -- (to_2_10);
  \draw[ed] (to_3_13) -- (to_4_14);
  \draw[ed] (repeat_1_7) -- (to_1_9);
  \draw[ed] (repeat_2_8) -- (to_3_13);
  \draw[ed] (meshgrid_1_5) -- (repeat_1_7);
  \draw[ed] (meshgrid_2_6) -- (repeat_2_8);
  \draw[ed] (getitem_2_4) -- node[el, pos=0.8, left] {arg 0} (meshgrid_1_5);
  \draw[ed] (getitem_1_2) -- node[el, pos=0.85, above] {arg 1} (meshgrid_1_5);
  \draw[ed] (getitem_2_4) -- node[el, pos=0.85, above] {arg 0} (meshgrid_2_6);
  \draw[ed] (getitem_1_2) -- node[el, pos=0.8, right] {arg 1} (meshgrid_2_6);
  \draw[ed] (linspace_2_3) -- (getitem_2_4);
  \draw[ed] (linspace_1_1) -- (getitem_1_2);
\end{tikzpicture}
\end{document}
